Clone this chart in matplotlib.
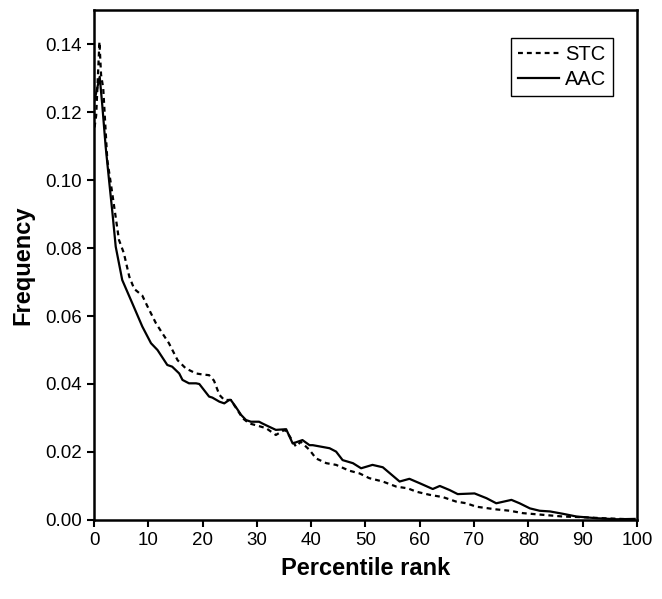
import matplotlib
matplotlib.use("Agg")
import matplotlib.pyplot as plt

plt.rcParams["font.family"] = ["Liberation Sans", "DejaVu Sans"]

# STC (dashed)
stc_x = [0.1, 0.4, 1.0, 1.3, 1.7, 2.45, 3.1, 4.6, 5.5, 6.5, 7.4, 8.9, 9.8, 11.4,
         12.6, 13.8, 15.4, 16.9, 18.8, 20.0, 21.2, 22.1, 23.1, 24.0, 25.2, 26.8,
         27.4, 28.6, 30.0, 31.7, 33.5, 35.1, 35.7, 37.2, 38.1, 39.7, 40.9, 42.8,
         44.6, 47.0, 48.9, 50.7, 53.2, 55.7, 57.8, 59.4, 61.8, 64.3, 66.7, 68.6,
         70.4, 74.1, 76.6, 79.0, 82.7, 86.4, 90.1, 93.8, 98.7, 100.0]
stc_y = [0.1155, 0.119, 0.1407, 0.131, 0.127, 0.1059, 0.099, 0.0824, 0.0785,
         0.0716, 0.068, 0.066, 0.063, 0.0579, 0.0549, 0.052, 0.047, 0.0446,
         0.0431, 0.0428, 0.0426, 0.041, 0.0368, 0.0353, 0.0353, 0.0314, 0.0299,
         0.0284, 0.0278, 0.027, 0.025, 0.0265, 0.0255, 0.0216, 0.023, 0.0206,
         0.0181, 0.0167, 0.0162, 0.0145, 0.0137, 0.0123, 0.0113, 0.0098, 0.0093,
         0.0083, 0.0074, 0.0067, 0.0054, 0.0049, 0.0039, 0.0031, 0.0027, 0.002,
         0.0015, 0.001, 0.0008, 0.0005, 0.0002, 0.0002]

# AAC (solid)
aac_x = [0.1, 1.05, 1.5, 2.15, 2.77, 3.4, 4.0, 5.2, 7.07, 8.9, 10.5, 11.7, 13.5,
         14.4, 15.7, 16.3, 17.5, 18.8, 19.4, 21.2, 21.8, 23.1, 24.0, 24.9, 25.2,
         26.1, 27.1, 28.0, 28.9, 30.4, 31.0, 32.3, 33.5, 35.4, 36.6, 38.4, 39.7,
         40.3, 43.4, 44.6, 45.8, 47.7, 49.2, 51.3, 53.2, 56.3, 58.1, 60.0, 62.4,
         63.7, 65.5, 67.0, 70.1, 72.3, 74.1, 76.9, 78.4, 80.3, 82.1, 84.0, 86.4,
         88.9, 92.6, 96.3, 99.6]
aac_y = [0.1235, 0.1304, 0.1225, 0.1098, 0.100, 0.0903, 0.0804, 0.0706, 0.0637,
         0.0569, 0.052, 0.050, 0.0456, 0.0451, 0.0431, 0.0412, 0.0402, 0.0402,
         0.0400, 0.0363, 0.0360, 0.0348, 0.0343, 0.0353, 0.0353, 0.0333, 0.0309,
         0.0294, 0.0289, 0.0289, 0.0284, 0.0274, 0.0265, 0.0267, 0.0225, 0.0235,
         0.022, 0.022, 0.0211, 0.0201, 0.0176, 0.0167, 0.0152, 0.0162, 0.0155,
         0.0113, 0.0121, 0.0108, 0.0091, 0.0100, 0.0088, 0.0076, 0.0078, 0.0064,
         0.0049, 0.0059, 0.0049, 0.0034, 0.0027, 0.0025, 0.0018, 0.001, 0.0005,
         0.0002, 0.0003]

x_ticks = list(range(0, 101, 10))
y_ticks = [0.00, 0.02, 0.04, 0.06, 0.08, 0.10, 0.12, 0.14]

fig = plt.figure(figsize=(6.62, 5.99), dpi=100)
ax = fig.add_axes([0.142, 0.132, 0.820, 0.851])

ax.plot(stc_x, stc_y, color="black", lw=1.6, ls=(0, (2.2, 1.8)), label="STC")
ax.plot(aac_x, aac_y, color="black", lw=1.6, label="AAC")

ax.set_xlim(0, 100)
ax.set_ylim(0, 0.15)
ax.set_xticks(x_ticks)
ax.set_yticks(y_ticks)
ax.set_yticklabels([f"{v:.2f}" for v in y_ticks])
ax.tick_params(direction="out", length=5, width=1.5, labelsize=13.5, colors="black")
for s in ax.spines.values():
    s.set_linewidth(1.8)

ax.set_xlabel("Percentile rank", fontsize=17, fontweight="bold", labelpad=6)
ax.set_ylabel("Frequency", fontsize=17, fontweight="bold", labelpad=8)

leg = ax.legend(loc="upper right", bbox_to_anchor=(0.956, 0.945), borderaxespad=0,
                fontsize=14.5, fancybox=False, framealpha=1, edgecolor="black",
                handlelength=2.0, handletextpad=0.3, borderpad=0.35,
                labelspacing=0.3)
leg.get_frame().set_linewidth(1.0)

fig.savefig("out.png", dpi=100)
